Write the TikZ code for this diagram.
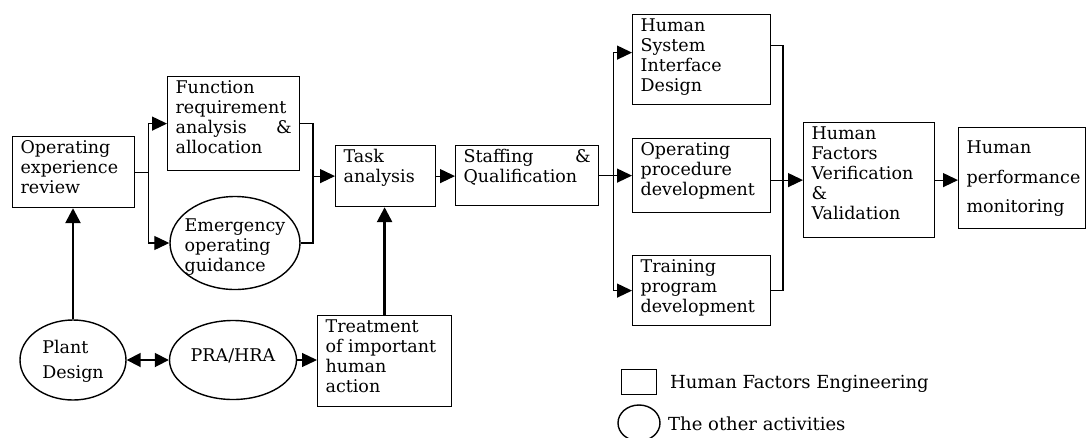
\documentclass[tikz,border=0pt]{standalone}
\usepackage{fontspec}
\setmainfont{DejaVu Serif}
\usepackage{tikz}
\usetikzlibrary{positioning,arrows.meta,shapes.geometric,calc}

% text block inside a box, set from the top
\newcommand{\fitbox}[4][0pt]{\parbox[t][#3][t]{#2}{\raggedright\vspace*{#1}\strut#4}}
% text inside an oval, not counted in its size
\newcommand{\ovaltext}[2][-4pt]{\makebox[0pt]{\smash{\raisebox{#1}{\begin{tabular}{@{}l@{}}#2\end{tabular}}}}}

\tikzset{
  hfe/.style={draw, rectangle, anchor=north west, inner xsep=8pt, inner ysep=3pt, line width=1.2pt},
  other/.style={draw, ellipse, inner sep=0pt, line width=1.4pt},
  link/.style={line width=1.2pt},
  flow/.style={link, -{Triangle[length=15pt,width=14pt]}},
  twoway/.style={link, line width=1.8pt, {Triangle[length=14pt,width=14pt]}-{Triangle[length=14pt,width=14pt]}},
  feed/.style={line width=2.6pt, -{Triangle[length=15pt,width=15pt]}},
}

\begin{document}
\begin{tikzpicture}[x=1pt, y=-1pt, font=\fontsize{17.5}{20}\selectfont]
\useasboundingbox (0,0) rectangle (1087,437);

% Human factors engineering boxes
\node[hfe] (oer) at (12,136) {\fitbox{106pt}{65pt}{Operating\\experience\\review}};
\node[hfe] (fra) at (167,76) {\fitbox{116pt}{88pt}{Function\\requirement\\analysis \hfill \&\\allocation}};
\node[hfe] (task) at (335,145) {\fitbox{84pt}{55pt}{Task\\analysis}};
\node[hfe] (staff) at (455,145) {\fitbox{127pt}{54pt}{Staffing \hfill \&\\Qualification}};
\node[hfe] (hsi) at (632,14) {\fitbox{122pt}{84pt}{Human\\System\\Interface\\Design}};
\node[hfe] (opd) at (632,138) {\fitbox{122pt}{68pt}{Operating\\procedure\\development}};
\node[hfe] (tpd) at (632,255) {\fitbox{122pt}{64pt}{Training\\program\\development}};
\node[hfe] (hfvv) at (803,122) {\fitbox{115pt}{109pt}{Human\\Factors\\Verification\\\&\\Validation}};
\node[hfe] (hpm) at (958,127) {\fitbox[9pt]{111pt}{95pt}{Human\\[10pt]performance\\[9pt]monitoring}};
\node[hfe] (tiha) at (317,315) {\fitbox{118pt}{85pt}{Treatment\\of important\\human\\action}};

% Other activities
\node[other, minimum width=130pt, minimum height=93pt] (eog) at (235,243) {\ovaltext[-9pt]{Emergency\\operating\\guidance}};
\node[other, minimum width=106pt, minimum height=80pt] (plant) at (73,360) {\ovaltext[-6pt]{Plant\\[5pt]Design}};
\node[other, minimum width=127pt, minimum height=79pt] (pra) at (233,360) {\ovaltext[-2pt]{PRA/HRA}};

% Forks and joins
\coordinate (fork1) at ($(oer.east)+(13,0)$);
\coordinate (join1) at ($(task.west)+(-22,0)$);
\coordinate (fork2) at ($(staff.east)+(14,0)$);
\coordinate (join2) at ($(hfvv.west)+(-20,0)$);

% Connectors
\draw[link] (oer.east) -- (fork1);
\draw[flow] (fork1) |- (fra.west);
\draw[flow] (fork1) |- (eog.west);
\draw[link] (fra.east) -| (join1);
\draw[link] (eog.east) -| (join1);
\draw[flow] (join1) -- (task.west);
\draw[flow] (task.east) -- (task.east -| staff.west);
\draw[link] (staff.east) -- (fork2);
\draw[flow] (fork2) |- ([yshift=7pt]hsi.west);
\draw[flow] (fork2) |- (opd.west);
\draw[flow] (fork2) |- (tpd.west);
\draw[link] ([yshift=14pt]hsi.east) -| (join2);
\draw[link] (tpd.east) -| (join2);
\draw[link] (opd.east |- join2) -- (join2);
\draw[flow] (join2) -- (hfvv.west);
\draw[flow] (hfvv.east) -- (hfvv.east -| hpm.west);
\draw[feed] (plant.north) -- (plant.north |- oer.south);
\draw[feed] (tiha.north) -- (tiha.north |- task.south);
\draw[twoway] (plant.east) -- (pra.west);
\draw[flow] (pra.east) -- (pra.east -| tiha.west);

% Legend
\node[draw, rectangle, anchor=north west, inner sep=0pt, minimum width=35pt, minimum height=25pt, line width=1.3pt] (keybox) at (621,369) {};
\node[other, minimum width=42pt, minimum height=36pt] (keyoval) at (639,423) {};
\node[anchor=base west, inner sep=0pt, font=\fontsize{18}{20}\selectfont] (keyhfe) at (670,388) {Human Factors Engineering};
\node[anchor=base west, inner sep=0pt, font=\fontsize{18}{20}\selectfont] (keyother) at (668,430) {The other activities};
\end{tikzpicture}
\end{document}
